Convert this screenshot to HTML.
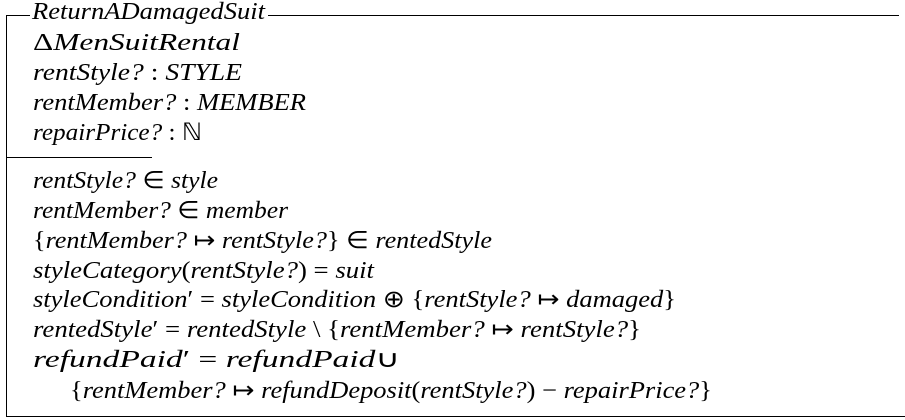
<!DOCTYPE html>
<html><head><meta charset="utf-8"><style>
html,body{margin:0;padding:0;background:#fff;width:905px;height:420px;overflow:hidden;position:relative;}
.l{position:absolute;white-space:nowrap;font-family:"Liberation Serif",serif;font-size:24px;font-style:italic;line-height:1;transform-origin:0 0;color:#000;}
.u{font-style:normal;}
.h{position:absolute;background:#000;height:1.3px;}
.v{position:absolute;background:#000;width:1.3px;}
</style></head><body>
<div class="h" style="left:6px;top:15px;width:24px"></div>
<div class="h" style="left:268px;top:15px;width:631px"></div>
<div class="v" style="left:6px;top:15px;height:402px"></div>
<div class="h" style="left:6px;top:157px;width:146px"></div>
<div class="h" style="left:6px;top:416px;width:899px"></div>

<div class="l" data-w="233" data-b="19" style="left:32px">ReturnADamagedSuit</div>
<div class="l" data-w="207" data-b="50" style="left:33px"><span class="u">Δ</span>MenSuitRental</div>
<div class="l" data-w="209" data-b="80" style="left:33px">rentStyle? <span class="u">:</span> STYLE</div>
<div class="l" data-w="273" data-b="110" style="left:33px">rentMember? <span class="u">:</span> MEMBER</div>
<div class="l" data-w="169" data-b="140" style="left:33px">repairPrice? <span class="u">: ℕ</span></div>
<div class="l" data-w="185" data-b="188" style="left:33px">rentStyle? <span class="u">∈</span> style</div>
<div class="l" data-w="255" data-b="218" style="left:33px">rentMember? <span class="u">∈</span> member</div>
<div class="l" data-w="459" data-b="248" style="left:33px"><span class="u">{</span>rentMember? <span class="u">↦</span> rentStyle?<span class="u">} ∈</span> rentedStyle</div>
<div class="l" data-w="341" data-b="278" style="left:33px">styleCategory<span class="u">(</span>rentStyle?<span class="u">) =</span> suit</div>
<div class="l" data-w="643" data-b="307" style="left:33px">styleCondition<span class="u">′ =</span> styleCondition <span class="u">⊕ {</span>rentStyle? <span class="u">↦</span> damaged<span class="u">}</span></div>
<div class="l" data-w="608" data-b="337" style="left:33px">rentedStyle<span class="u">′ =</span> rentedStyle <span class="u">\ {</span>rentMember? <span class="u">↦</span> rentStyle?<span class="u">}</span></div>
<div class="l" data-w="367" data-b="367" style="left:33px">refundPaid<span class="u">′ =</span> refundPaid<span class="u">∪</span></div>
<div class="l" data-w="642" data-b="398" style="left:70px"><span class="u">{</span>rentMember? <span class="u">↦</span> refundDeposit<span class="u">(</span>rentStyle?<span class="u">) −</span> repairPrice?<span class="u">}</span></div>

<script>
document.querySelectorAll('.l').forEach(function(e){
  var w=e.getBoundingClientRect().width;
  var tw=+e.getAttribute('data-w');
  e.style.transform='scaleX('+(tw/w)+')';
  e.style.top=(+e.getAttribute('data-b')-19)+'px';
});
</script>
</body></html>
